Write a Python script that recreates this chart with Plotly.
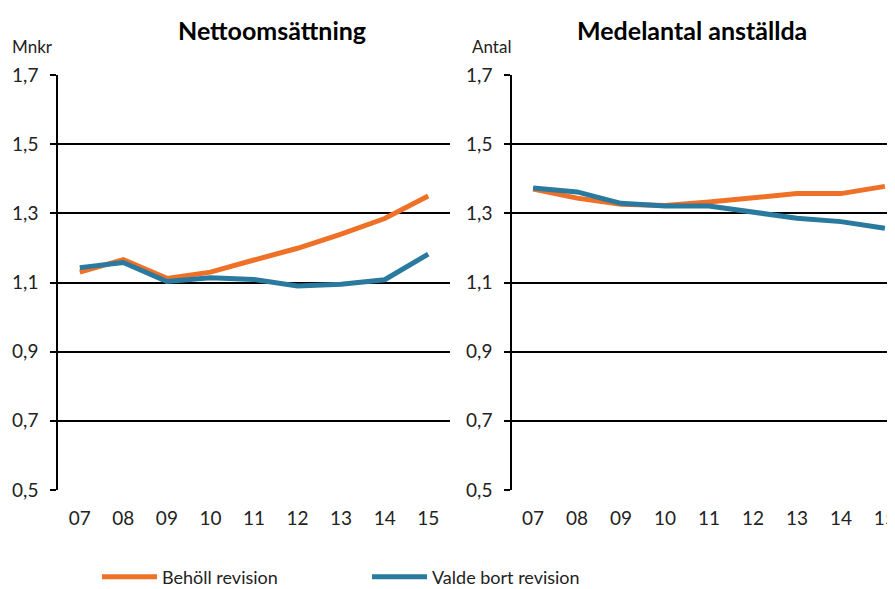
import plotly.graph_objects as go

years = ["07", "08", "09", "10", "11", "12", "13", "14", "15"]

oms_beholl = [1.13, 1.166, 1.112, 1.13, 1.165, 1.199, 1.24, 1.285, 1.35]
oms_valde = [1.143, 1.158, 1.103, 1.114, 1.109, 1.09, 1.095, 1.108, 1.182]

anst_beholl = [1.37, 1.344, 1.326, 1.323, 1.333, 1.346, 1.357, 1.357, 1.378]
anst_valde = [1.373, 1.362, 1.329, 1.321, 1.321, 1.305, 1.286, 1.276, 1.257]

y_ticks = [0.5, 0.7, 0.9, 1.1, 1.3, 1.5, 1.7]
y_labels = ["0,5", "0,7", "0,9", "1,1", "1,3", "1,5", "1,7"]

orange = "#EE7127"
blue = "#2A799F"
font = "Lato"

# the page body adds an 8px offset, so the figure is shrunk and shifted back by 8
OFF = 8
W, H = 895 - OFF, 589 - OFF
TOP, BOT = 75 - OFF, 490 - OFF
plot_h = BOT - TOP


def px(pix):
    return (pix - OFF) / W


def py(pix):
    return (BOT - (pix - OFF)) / plot_h


fig = go.Figure()

fig.add_trace(go.Scatter(x=years, y=oms_beholl, mode="lines", name="Behöll revision",
                         line=dict(color=orange, width=5), xaxis="x", yaxis="y"))
fig.add_trace(go.Scatter(x=years, y=oms_valde, mode="lines", name="Valde bort revision",
                         line=dict(color=blue, width=5), xaxis="x", yaxis="y"))
fig.add_trace(go.Scatter(x=years, y=anst_beholl, mode="lines", showlegend=False,
                         line=dict(color=orange, width=5), xaxis="x2", yaxis="y2"))
fig.add_trace(go.Scatter(x=years, y=anst_valde, mode="lines", showlegend=False,
                         line=dict(color=blue, width=5), xaxis="x2", yaxis="y2"))

xcommon = dict(type="category", showgrid=False, zeroline=False, showline=False,
               ticks="", tickfont=dict(size=19, color="#222"), ticklabelstandoff=15,
               automargin=False)
ycommon = dict(range=[0.5, 1.7], tickvals=y_ticks, ticktext=y_labels,
               showgrid=True, gridcolor="black", gridwidth=1.5, zeroline=False,
               showline=True, linecolor="black", linewidth=1.5,
               ticks="outside", ticklen=6, tickcolor="black", tickwidth=1.5,
               tickfont=dict(size=19, color="#222"), ticklabelstandoff=8,
               automargin=False)

fig.update_layout(
    width=W, height=H,
    margin=dict(l=0, r=0, t=TOP, b=H - BOT, autoexpand=False),
    plot_bgcolor="white", paper_bgcolor="white",
    font=dict(family=font, color="#222"),
    xaxis=dict(domain=[px(58), px(450)], range=[-0.5, 8.5], anchor="y", **xcommon),
    yaxis=dict(domain=[0, 1], anchor="x", **ycommon),
    xaxis2=dict(domain=[px(512), 1.0], range=[-0.48, 8.23], anchor="y2", **xcommon),
    yaxis2=dict(domain=[0, 1], anchor="x2", **ycommon),
    legend=dict(orientation="h", x=px(97), y=py(577), xanchor="left", yanchor="middle",
                font=dict(size=18, color="#222"), entrywidth=200, itemwidth=55,
                bgcolor="rgba(0,0,0,0)"),
    shapes=[
        dict(type="line", xref="x", yref="y", x0="10", x1="10", y0=0.5, y1=1.7,
             line=dict(color="black", width=1.5, dash="dot")),
        dict(type="line", xref="x2", yref="y2", x0="10", x1="10", y0=0.5, y1=1.7,
             line=dict(color="black", width=1.5, dash="dot")),
    ],
    annotations=[
        dict(text="<b>Nettoomsättning</b>", x=px(272), y=py(30), xref="paper", yref="paper",
             xanchor="center", yanchor="middle",
             showarrow=False, font=dict(size=25, color="black")),
        dict(text="<b>Medelantal anställda</b>", x=px(692), y=py(30), xref="paper", yref="paper",
             xanchor="center", yanchor="middle",
             showarrow=False, font=dict(size=25, color="black")),
        dict(text="Mnkr", x=px(10), y=py(47), xref="paper", yref="paper",
             xanchor="left", yanchor="middle",
             showarrow=False, font=dict(size=17, color="#222")),
        dict(text="Antal", x=px(470), y=py(47), xref="paper", yref="paper",
             xanchor="left", yanchor="middle",
             showarrow=False, font=dict(size=17, color="#222")),
    ],
)

fig.write_html("out.html")
